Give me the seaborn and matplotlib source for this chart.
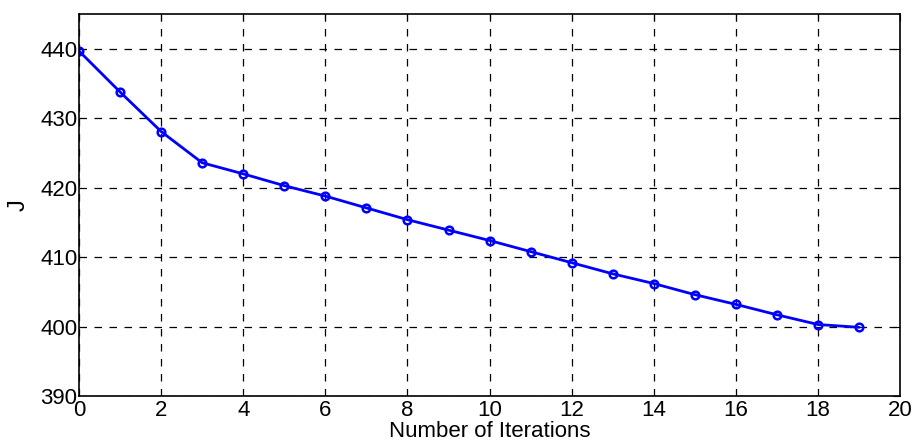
import matplotlib
matplotlib.use("Agg")
import matplotlib.pyplot as plt
import numpy as np
import pandas as pd
import seaborn as sns

iterations = list(range(20))
cost_j = [439.7, 433.8, 428.1, 423.6, 422.0, 420.3, 418.8, 417.1, 415.4, 413.9,
          412.4, 410.8, 409.2, 407.6, 406.2, 404.6, 403.2, 401.7, 400.3, 399.9]
x_ticks = list(range(0, 21, 2))
y_ticks = [390, 400, 410, 420, 430, 440]

sns.set_theme(style="white")
plt.rcParams["font.family"] = ["Liberation Sans", "DejaVu Sans"]
plt.rcParams["text.color"] = "black"
plt.rcParams["axes.labelcolor"] = "black"

df = pd.DataFrame({"iter": iterations, "J": cost_j})

fig = plt.figure(figsize=(9.13, 4.43), dpi=100)
ax = fig.add_axes([0.0865, 0.106, 0.8995, 0.862])

sns.lineplot(data=df, x="iter", y="J", ax=ax, color="#0000ff", linewidth=2,
             marker="o", markersize=5.5, markerfacecolor="none",
             markeredgecolor="#0000ff", markeredgewidth=1.8)

ax.set_xlim(0, 20)
ax.set_ylim(390, 445)
ax.set_xticks(x_ticks)
ax.set_yticks(y_ticks)
ax.grid(True, color="black", linestyle=(0, (6, 6)), linewidth=0.9)
ax.tick_params(direction="in", length=5, width=0.8, labelsize=16,
               top=True, right=True, colors="black")
ax.tick_params(axis="x", pad=3)
ax.tick_params(axis="y", pad=1)
for side in ax.spines.values():
    side.set_edgecolor("black")
    side.set_linewidth(1.2)

ax.set_xlabel("Number of Iterations", fontsize=16, labelpad=0)
ax.set_ylabel("J", fontsize=17, labelpad=8)

fig.savefig("out.png", dpi=100)
